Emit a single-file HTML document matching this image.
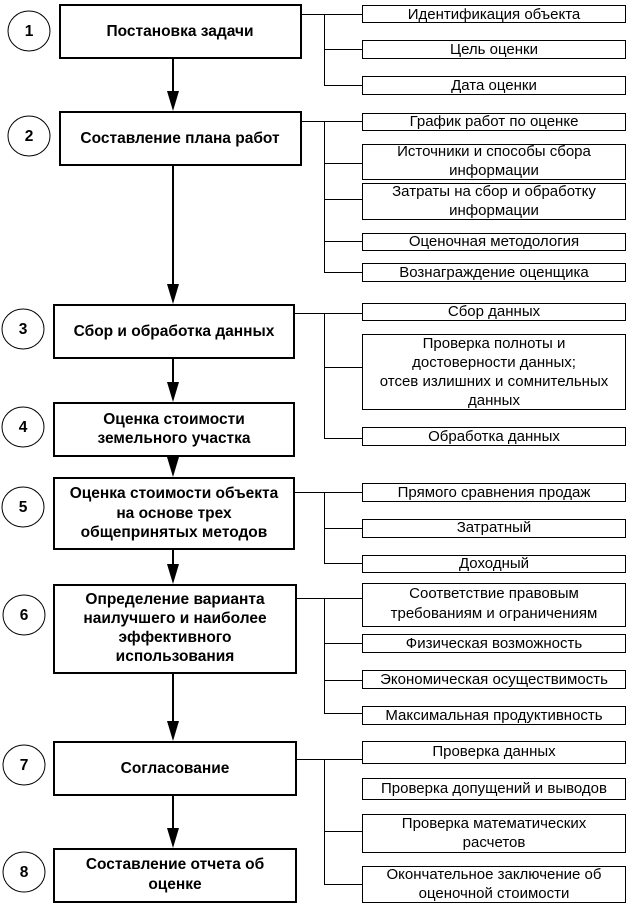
<!DOCTYPE html>
<html><head><meta charset="utf-8"><style>
body{margin:0;background:#fff}
svg text{font-family:"Liberation Sans",Arial,sans-serif}
.b{font-weight:bold;font-size:15.5px}
.r{font-size:15px}
</style></head><body>
<svg width="628" height="905" xmlns="http://www.w3.org/2000/svg">
<g fill="none" stroke="#000" stroke-width="1">
<ellipse cx="29" cy="31" rx="21" ry="20"/>
<ellipse cx="29" cy="136" rx="21" ry="20"/>
<ellipse cx="23" cy="329" rx="21" ry="20"/>
<ellipse cx="23" cy="427" rx="21" ry="20"/>
<ellipse cx="23" cy="507" rx="21" ry="20"/>
<ellipse cx="24" cy="615" rx="21" ry="20"/>
<ellipse cx="24" cy="765" rx="21" ry="20"/>
<ellipse cx="24" cy="872" rx="21" ry="20"/>
<rect x="362.5" y="5.5" width="263" height="17"/>
<rect x="362.5" y="40.5" width="263" height="18"/>
<rect x="362.5" y="76.5" width="263" height="18"/>
<rect x="362.5" y="113.5" width="263" height="17"/>
<rect x="362.5" y="144.5" width="263" height="35"/>
<rect x="362.5" y="183.5" width="263" height="36"/>
<rect x="362.5" y="233.5" width="263" height="17"/>
<rect x="362.5" y="263.5" width="263" height="18"/>
<rect x="362.5" y="303.5" width="263" height="17"/>
<rect x="362.5" y="334.5" width="263" height="75"/>
<rect x="362.5" y="427.5" width="263" height="18"/>
<rect x="362.5" y="483.5" width="263" height="18"/>
<rect x="362.5" y="519.5" width="263" height="18"/>
<rect x="362.5" y="555.5" width="263" height="17"/>
<rect x="362.5" y="583.5" width="263" height="43"/>
<rect x="362.5" y="634.5" width="263" height="18"/>
<rect x="362.5" y="670.5" width="263" height="18"/>
<rect x="362.5" y="706.5" width="263" height="18"/>
<rect x="362.5" y="741.5" width="263" height="22"/>
<rect x="362.5" y="778.5" width="263" height="21"/>
<rect x="362.5" y="814.5" width="263" height="38"/>
<rect x="362.5" y="866.5" width="263" height="36"/>
<path d="M301 14.5H362M324.5 14.5V85.5M324 49.5H362M324 85.5H362"/>
<path d="M301 121.5H362M324.5 121.5V272.5M324 163.5H362M324 199.5H362M324 241.5H362M324 272.5H362"/>
<path d="M294 313.5H362M324.5 313.5V438.5M324 367.5H362M324 438.5H362"/>
<path d="M294 492.5H362M324.5 492.5V563.5M324 528.5H362M324 563.5H362"/>
<path d="M296 598.5H362M324.5 598.5V713.5M324 643.5H362M324 680.5H362M324 713.5H362"/>
<path d="M296 759.5H362M324.5 759.5V884.5M324 831.5H362M324 884.5H362"/>
</g>
<g fill="none" stroke="#000" stroke-width="2">
<rect x="60" y="5" width="241" height="53"/>
<rect x="60" y="112" width="241" height="53"/>
<rect x="54" y="305" width="240" height="53"/>
<rect x="54" y="403" width="240" height="53"/>
<rect x="54" y="478" width="240" height="71"/>
<rect x="54" y="585" width="242" height="88"/>
<rect x="54" y="742" width="242" height="53"/>
<rect x="54" y="849" width="242" height="53"/>
<path d="M173 58V95M173 165V290M173 358V388M173 456V462M173 549V570M173 673V725M173 795V832"/>
</g>
<g fill="#000">
<polygon points="167,91 179,91 173,111"/>
<polygon points="167,284 179,284 173,304"/>
<polygon points="167,382 179,382 173,402"/>
<polygon points="167,457 179,457 173,477"/>
<polygon points="167,564 179,564 173,584"/>
<polygon points="167,721 179,721 173,741"/>
<polygon points="167,828 179,828 173,848"/>
</g>
<g class="b" text-anchor="middle">
<text x="29" y="36">1</text><text x="29" y="141">2</text><text x="23" y="334">3</text><text x="23" y="432">4</text>
<text x="23" y="512">5</text><text x="24" y="620">6</text><text x="24" y="770">7</text><text x="24" y="877">8</text>
<text x="180" y="36">Постановка задачи</text>
<text x="180" y="143">Составление плана работ</text>
<text x="174" y="336">Сбор и обработка данных</text>
<text x="174" y="424">Оценка стоимости</text>
<text x="174" y="443">земельного участка</text>
<text x="174" y="498">Оценка стоимости объекта</text>
<text x="174" y="518">на основе трех</text>
<text x="174" y="537">общепринятых методов</text>
<text x="175" y="604">Определение варианта</text>
<text x="175" y="623">наилучшего  и наиболее</text>
<text x="175" y="642">эффективного</text>
<text x="175" y="661">использования</text>
<text x="175" y="773">Согласование</text>
<text x="175" y="869">Составление отчета об</text>
<text x="175" y="889">оценке</text>
</g>
<g class="r" text-anchor="middle">
<text x="494" y="19">Идентификация объекта</text>
<text x="494" y="54">Цель оценки</text>
<text x="494" y="90">Дата оценки</text>
<text x="494" y="126">График работ по оценке</text>
<text x="494" y="156">Источники и  способы сбора</text>
<text x="494" y="175">информации</text>
<text x="494" y="196">Затраты на сбор и обработку</text>
<text x="494" y="215">информации</text>
<text x="494" y="246">Оценочная методология</text>
<text x="494" y="277">Вознаграждение оценщика</text>
<text x="494" y="316">Сбор данных</text>
<text x="494" y="348">Проверка полноты и</text>
<text x="494" y="367">достоверности данных;</text>
<text x="494" y="386">отсев излишних и сомнительных</text>
<text x="494" y="405">данных</text>
<text x="494" y="441">Обработка данных</text>
<text x="494" y="497">Прямого сравнения продаж</text>
<text x="494" y="532">Затратный</text>
<text x="494" y="568">Доходный</text>
<text x="494" y="598">Соответствие правовым</text>
<text x="494" y="618">требованиям и  ограничениям</text>
<text x="494" y="648">Физическая возможность</text>
<text x="494" y="684">Экономическая осуществимость</text>
<text x="494" y="720">Максимальная продуктивность</text>
<text x="494" y="756">Проверка данных</text>
<text x="494" y="793">Проверка допущений и  выводов</text>
<text x="494" y="828">Проверка математических</text>
<text x="494" y="847">расчетов</text>
<text x="494" y="879">Окончательное заключение об</text>
<text x="494" y="898">оценочной  стоимости</text>
</g>
</svg>
</body></html>
